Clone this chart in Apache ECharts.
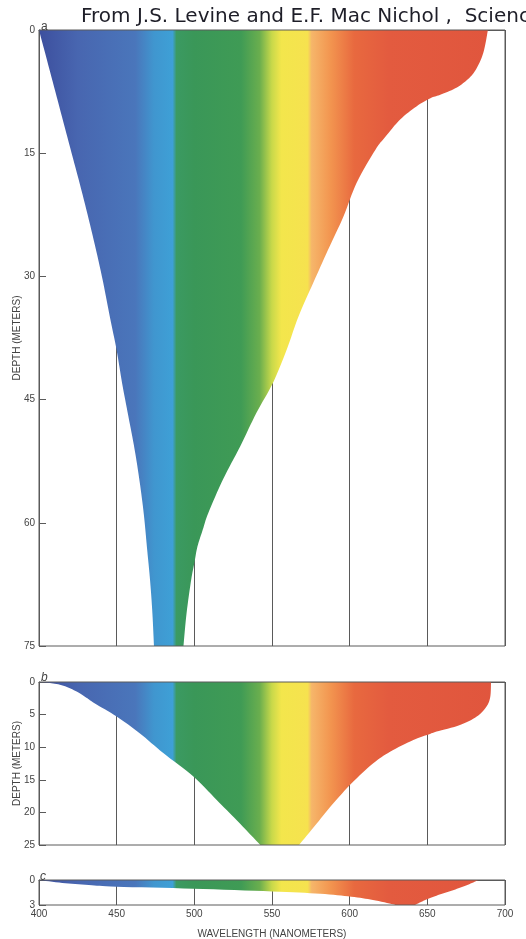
<!DOCTYPE html>
<html><head><meta charset="utf-8">
<script src="https://cdn.jsdelivr.net/npm/echarts@6/dist/echarts.min.js"></script>
<style>html,body{margin:0;padding:0;background:#fff}#c{width:526px;height:939px}</style>
</head><body><div id="c"></div>
<script>
// ---- data ----
const wavelengthTicks = [400, 450, 500, 550, 600, 650, 700];
const depthTicksA = [0, 15, 30, 45, 60, 75];
const depthTicksB = [0, 5, 10, 15, 20, 25];
const depthTicksC = [0, 3];

// panel a : edges of transmitted spectrum (depth m, wavelength nm)
const aLeftDepth = [0, 5, 10, 15, 20, 25, 30, 35, 39, 43, 47, 51, 55, 59, 63, 67, 71, 75];
const aLeftNm    = [400, 407, 414, 421, 428, 434.5, 440.5, 445.7, 450, 453.5, 457.5, 461.5, 464.8, 467.5, 469.5, 471.5, 473, 474];
const aRightDepth = [0, 2.8, 4.9, 6.1, 7.1, 7.9, 8.3, 9.3, 10.9, 13, 14.6, 18.6, 22.7, 26.8, 30.8, 34.9, 38.9, 43, 46.6, 50.7, 54.7, 58.8, 60.8, 62.9, 64.9, 66.9, 71, 75];
const aRightNm    = [689, 686, 681, 675.5, 668, 658, 652, 643, 632.5, 623, 616.5, 604.5, 596, 586, 576.5, 567, 559.5, 550.5, 540, 529.5, 518.5, 509, 505.5, 502, 500, 498, 495, 493];

// panel b
const bLeftDepth = [0, 0.15, 0.57, 1.5, 2.4, 3.3, 5.3, 7.9, 10.9, 14.5, 18.1, 21.2, 25];
const bLeftNm    = [400, 407, 415.7, 424.5, 430.5, 436, 450, 465, 480, 499.4, 514.4, 527.3, 542.5];
const bRightDepth = [0, 2.3, 3.8, 5.3, 6.6, 7.6, 8, 8.9, 10.7, 12.5, 15.5, 18.6, 21.7, 25];
const bRightNm    = [691, 690.5, 688, 681.8, 671, 656, 651.3, 641, 626, 615, 601.4, 589.5, 578.8, 567.4];

// panel c
const cLeftDepth = [0, 0.35, 0.6, 0.8, 1.04, 1.37, 1.65, 2.0, 2.4, 2.92, 3];
const cLeftNm    = [400, 415, 432, 450, 499.4, 550, 581, 601, 615, 628, 629];
const cRightDepth = [0, 0.5, 1, 1.5, 2, 2.5, 3];
const cRightNm    = [683, 677, 670, 662, 654, 647.5, 642];

// spectrum colour stops (wavelength nm -> colour)
const spectrumNm    = [400, 425, 462, 474, 486, 488.5, 500, 530, 542, 550, 556, 573, 575.5, 588, 603, 625, 700];
const spectrumColor = ['#3d4f9e', '#4866b0', '#4a76bb', '#4096cf', '#3ea0d6', '#3b9a62', '#3a9758', '#3f9b55', '#6aae4e', '#c9d94a', '#f3e64c', '#f6e24f', '#f6b66a', '#f2944f', '#e8693f', '#e35b3f', '#e0553d'];

// ---- chart ----
const NM_MIN = wavelengthTicks[0], NM_MAX = wavelengthTicks[wavelengthTicks.length - 1];
const NM_STEP = wavelengthTicks[1] - wavelengthTicks[0];
const stops = spectrumNm.map((n, i) => ({ offset: (n - NM_MIN) / (NM_MAX - NM_MIN), color: spectrumColor[i] }));

// smooth curve through pixel points (Catmull-Rom sampling, rendering only)
function smoothPts(p) {
  const out = [];
  const n = p.length;
  for (let i = 0; i < n - 1; i++) {
    const p0 = p[Math.max(0, i - 1)], p1 = p[i], p2 = p[i + 1], p3 = p[Math.min(n - 1, i + 2)];
    const steps = 8;
    for (let s = 0; s < steps; s++) {
      const t = s / steps, t2 = t * t, t3 = t2 * t;
      const f = k => 0.5 * ((2 * p1[k]) + (-p0[k] + p2[k]) * t + (2 * p0[k] - 5 * p1[k] + 4 * p2[k] - p3[k]) * t2 + (-p0[k] + 3 * p1[k] - 3 * p2[k] + p3[k]) * t3);
      out.push([f(0), f(1)]);
    }
  }
  out.push(p[n - 1]);
  return out;
}

function makeRender(ld, ln, rd, rn) {
  return function (params, api) {
    const L = ld.map((d, i) => api.coord([ln[i], d]));
    const R = rd.map((d, i) => api.coord([rn[i], d]));
    const pts = smoothPts(L).concat(smoothPts(R).reverse());
    const x0 = api.coord([NM_MIN, 0])[0], x1 = api.coord([NM_MAX, 0])[0];
    return {
      type: 'polygon',
      shape: { points: pts },
      style: { fill: new echarts.graphic.LinearGradient(x0, 0, x1, 0, stops, true) }
    };
  };
}

const AX = '#5a5a5a';
const LBL = { color: '#444', fontSize: 10, fontFamily: 'Liberation Sans' };
const grids = [
  { left: 39, top: 30, width: 466, height: 616 },
  { left: 39, top: 682, width: 466, height: 163 },
  { left: 39, top: 880, width: 466, height: 25 }
].map(g => Object.assign(g, { show: true, borderColor: AX, borderWidth: 1, backgroundColor: 'transparent', z: 5, containLabel: false, outerBoundsMode: 'none' }));

function xAx(i, showLabels) {
  return {
    type: 'value', gridIndex: i, min: NM_MIN, max: NM_MAX, interval: NM_STEP,
    axisLine: { show: true, lineStyle: { color: AX, width: 1 } },
    axisTick: { show: false },
    axisLabel: Object.assign({ show: showLabels, margin: 4 }, LBL),
    splitLine: { show: true, lineStyle: { color: AX, width: 1 } },
    name: showLabels ? 'WAVELENGTH (NANOMETERS)' : '',
    nameLocation: 'middle', nameGap: 24, nameMoveOverlap: false,
    nameTextStyle: { color: '#444', fontSize: 10, fontFamily: 'Liberation Sans' }
  };
}
function yAx(i, ticks, named) {
  return {
    type: 'value', gridIndex: i, inverse: true,
    min: ticks[0], max: ticks[ticks.length - 1], interval: ticks[1] - ticks[0],
    axisLine: { show: true, lineStyle: { color: AX, width: 1 } },
    axisTick: { show: true, inside: true, length: 7, lineStyle: { color: AX } },
    axisLabel: Object.assign({ margin: 4 }, LBL),
    splitLine: { show: false },
    name: named ? 'DEPTH (METERS)' : '',
    nameLocation: 'middle', nameRotate: 90, nameGap: 17, nameMoveOverlap: false,
    nameTextStyle: { color: '#444', fontSize: 10, fontFamily: 'Liberation Sans' }
  };
}

const chart = echarts.init(document.getElementById('c'), null, { renderer: 'canvas' });
chart.setOption({
  animation: false,
  backgroundColor: '#fff',
  title: [
    { text: 'From J.S. Levine and E.F. Mac Nichol ,  Science', left: 76, top: 2,
      textStyle: { fontSize: 20, fontWeight: 'normal', color: '#1e1e28', fontFamily: 'DejaVu Sans' } },
    { text: 'a', left: 36, top: 16, textStyle: { fontSize: 12, fontWeight: 'normal', color: '#444', fontFamily: 'Liberation Sans' } },
    { text: 'b', left: 36, top: 667, textStyle: { fontSize: 12, fontWeight: 'normal', fontStyle: 'italic', color: '#444', fontFamily: 'Liberation Sans' } },
    { text: 'c', left: 35, top: 866, textStyle: { fontSize: 12, fontWeight: 'normal', fontStyle: 'italic', color: '#444', fontFamily: 'Liberation Sans' } }
  ],
  grid: grids,
  xAxis: [xAx(0, false), xAx(1, false), xAx(2, true)],
  yAxis: [yAx(0, depthTicksA, true), yAx(1, depthTicksB, true), yAx(2, depthTicksC, false)],
  series: [
    { type: 'custom', xAxisIndex: 0, yAxisIndex: 0, data: [0], renderItem: makeRender(aLeftDepth, aLeftNm, aRightDepth, aRightNm) },
    { type: 'custom', xAxisIndex: 1, yAxisIndex: 1, data: [0], renderItem: makeRender(bLeftDepth, bLeftNm, bRightDepth, bRightNm) },
    { type: 'custom', xAxisIndex: 2, yAxisIndex: 2, data: [0], renderItem: makeRender(cLeftDepth, cLeftNm, cRightDepth, cRightNm) }
  ]
});
</script></body></html>
